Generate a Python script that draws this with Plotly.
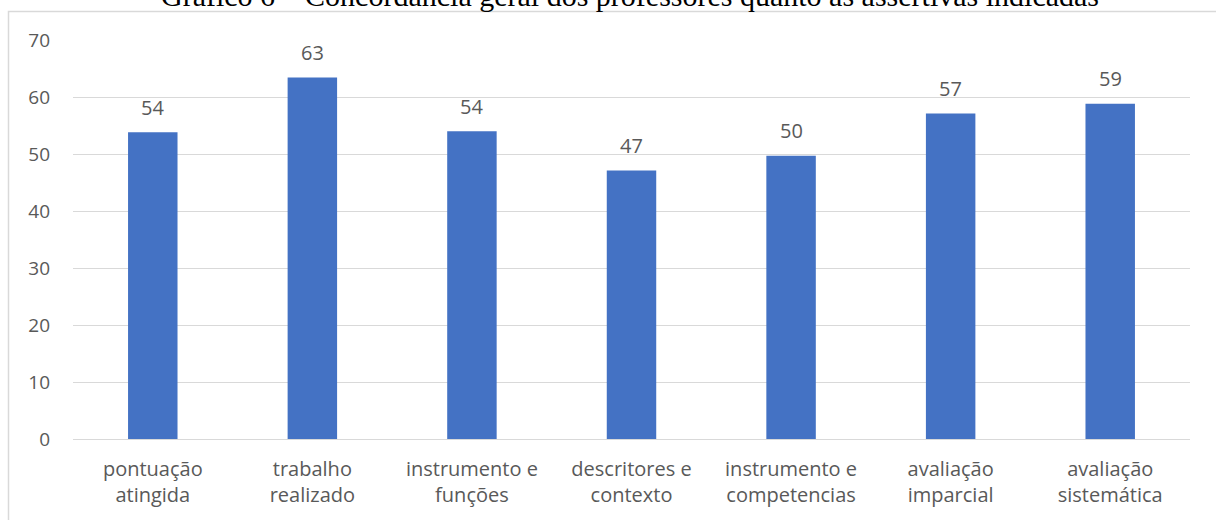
import plotly.graph_objects as go

categories = ["pontuação<br>atingida", "trabalho<br>realizado", "instrumento e<br>funções",
              "descritores e<br>contexto", "instrumento e<br>competencias", "avaliação<br>imparcial",
              "avaliação<br>sistemática"]
values = [53.8, 63.4, 54.0, 47.1, 49.7, 57.1, 58.8]
title_text = "Gráfico 6 – Concordância geral dos professores quanto às assertivas indicadas"

W, H = 1216, 520
L, R, T, B = 73, 26, 40, 81
pw, ph = W - L - R, H - T - B

def px(x):
    return (x - L) / pw

def py(y):
    return 1 - (y - T) / ph

font_family = "Open Sans"
gray = "#595959"

fig = go.Figure(go.Bar(
    x=categories, y=values,
    marker=dict(color="#4472c4", line=dict(width=0)),
    width=0.31,
    cliponaxis=False,
))

label_annotations = [
    dict(x=c, y=v, xref="x", yref="y", text=f"{v:.0f}", showarrow=False,
         xanchor="center", yanchor="middle", yshift=25,
         font=dict(family=font_family, size=20, color=gray))
    for c, v in zip(categories, values)
]

fig.update_layout(
    width=W, height=H,
    margin=dict(l=L, r=R, t=T, b=B),
    paper_bgcolor="white", plot_bgcolor="white",
    showlegend=False,
    font=dict(family=font_family, color=gray, size=19),
    xaxis=dict(showgrid=False, showline=True, linecolor="#d9d9d9", linewidth=1,
               ticks="", tickfont=dict(size=20, color=gray), ticklabelstandoff=12),
    yaxis=dict(range=[0, 70], dtick=10, showgrid=True, gridcolor="#d9d9d9", gridwidth=1,
               zeroline=False, showline=False, ticks="", ticklen=0,
               tickfont=dict(size=19, color=gray), ticklabelstandoff=22),
    shapes=[dict(type="rect", xref="paper", yref="paper",
                 x0=px(8.5), x1=px(1230), y0=py(540), y1=py(11.5),
                 line=dict(color="#d9d9d9", width=1.5), fillcolor="rgba(0,0,0,0)", layer="below")],
    annotations=[dict(text=title_text, xref="paper", yref="paper", x=px(630), y=py(-5),
                      xanchor="center", yanchor="middle", showarrow=False,
                      font=dict(family="Liberation Serif", size=30, color="black"))] + label_annotations,
    bargap=0.69,
)

fig.write_html("out.html")
